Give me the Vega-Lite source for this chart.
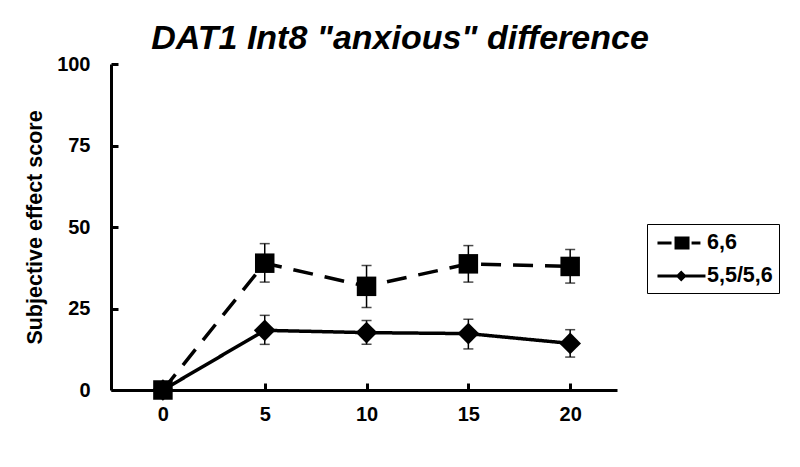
{
  "$schema": "https://vega.github.io/schema/vega-lite/v6.json",
  "autosize": "none",
  "width": 506,
  "height": 326,
  "padding": {"left": 111, "top": 64, "right": 183, "bottom": 77},
  "background": "white",
  "config": {
    "view": {"stroke": null},
    "font": "Liberation Sans",
    "axis": {
      "domainColor": "black", "domainWidth": 3, "tickColor": "black", "tickWidth": 3, "tickSize": -7,
      "labelFont": "Liberation Sans", "labelFontSize": 20, "labelFontWeight": "bold", "labelColor": "black",
      "grid": false, "titleColor": "black"
    }
  },
  "title": {
    "text": "DAT1 Int8 \"anxious\" difference",
    "font": "Liberation Sans", "fontSize": 34, "fontWeight": "bold", "fontStyle": "italic", "color": "black",
    "frame": "group", "anchor": "middle", "dx": 36, "offset": -2
  },
  "data": {
    "values": [
      {"series": "5,5/5,6", "t": 0, "mean": 0, "lo": 0, "hi": 0},
      {"series": "5,5/5,6", "t": 5, "mean": 18.3, "lo": 14.0, "hi": 22.9},
      {"series": "5,5/5,6", "t": 10, "mean": 17.6, "lo": 14.0, "hi": 21.3},
      {"series": "5,5/5,6", "t": 15, "mean": 17.3, "lo": 12.6, "hi": 21.7},
      {"series": "5,5/5,6", "t": 20, "mean": 14.3, "lo": 10.1, "hi": 18.5},
      {"series": "6,6", "t": 0, "mean": 0, "lo": 0, "hi": 0},
      {"series": "6,6", "t": 5, "mean": 38.9, "lo": 33.1, "hi": 44.9},
      {"series": "6,6", "t": 10, "mean": 31.8, "lo": 25.3, "hi": 38.2},
      {"series": "6,6", "t": 15, "mean": 38.7, "lo": 33.1, "hi": 44.3},
      {"series": "6,6", "t": 20, "mean": 37.9, "lo": 32.8, "hi": 43.1}
    ]
  },
  "encoding": {
    "x": {
      "field": "t", "type": "quantitative",
      "scale": {"domain": [-2.55, 22.3], "nice": false, "zero": false},
      "axis": {"values": [0, 5, 10, 15, 20], "title": null, "labelPadding": 21}
    }
  },
  "layer": [
    {
      "mark": {"type": "line", "color": "black", "strokeWidth": 3.5},
      "encoding": {
        "y": {
          "field": "mean", "type": "quantitative", "title": "Subjective effect score",
          "scale": {"domain": [0, 100], "nice": false},
          "axis": {
            "values": [0, 25, 50, 75, 100],
            "titleFont": "Liberation Sans", "titleFontSize": 21.5, "titleFontWeight": "bold",
            "titleX": -76, "titleY": 163, "titleAngle": -90, "titleAlign": "center", "titleBaseline": "middle",
            "labelPadding": 28
          }
        },
        "detail": {"field": "series"},
        "strokeDash": {
          "field": "series", "type": "nominal",
          "scale": {"domain": ["6,6", "5,5/5,6"], "range": [[20, 12], [1, 0]]},
          "legend": null
        }
      }
    },
    {
      "mark": {"type": "errorbar", "color": "black", "thickness": 1.5, "ticks": {"size": 10, "thickness": 1.5, "color": "black"}},
      "encoding": {
        "y": {"field": "lo", "type": "quantitative", "title": "Subjective effect score"},
        "y2": {"field": "hi"},
        "detail": {"field": "series"}
      }
    },
    {
      "mark": {"type": "point", "filled": true, "color": "black", "opacity": 1},
      "encoding": {
        "y": {"field": "mean", "type": "quantitative", "title": "Subjective effect score"},
        "shape": {
          "field": "series", "type": "nominal",
          "scale": {"domain": ["6,6", "5,5/5,6"], "range": ["square", "diamond"]},
          "legend": null
        },
        "size": {
          "field": "series", "type": "nominal",
          "scale": {"domain": ["6,6", "5,5/5,6"], "range": [380, 470]},
          "legend": null
        }
      }
    },
    {
      "transform": [{"filter": "datum.t > 100"}],
      "mark": {"type": "point", "filled": true, "fill": "black", "size": 576, "opacity": 1},
      "encoding": {
        "y": {"field": "mean", "type": "quantitative", "title": "Subjective effect score"},
        "shape": {
          "field": "series", "type": "nominal",
          "scale": {
            "domain": ["6,6", "5,5/5,6"],
            "range": [
              "M-0.71,-0.125H0.46V0.125H-0.71ZM0.71,-0.54H1.96V0.54H0.71ZM2.13,-0.125H2.87V0.125H2.13Z",
              "M-0.71,-0.125H3.29V0.125H-0.71ZM0.81,0L1.27,-0.46L1.73,0L1.27,0.46Z"
            ]
          },
          "legend": {
            "title": null, "orient": "none", "legendX": 536, "legendY": 160,
            "padding": 6, "rowPadding": 9, "labelOffset": 28,
            "labelFont": "Liberation Sans", "labelFontSize": 21.5, "labelFontWeight": "bold", "labelColor": "black",
            "strokeColor": "black",
            "symbolFillColor": "black", "symbolSize": 576,
            "encode": {
              "symbols": {"update": {"fill": {"value": "black"}, "size": {"value": 576}}}
            }
          }
        }
      }
    }
  ],
  "resolve": {"scale": {"shape": "independent", "size": "independent"}, "legend": {"shape": "independent"}}
}
